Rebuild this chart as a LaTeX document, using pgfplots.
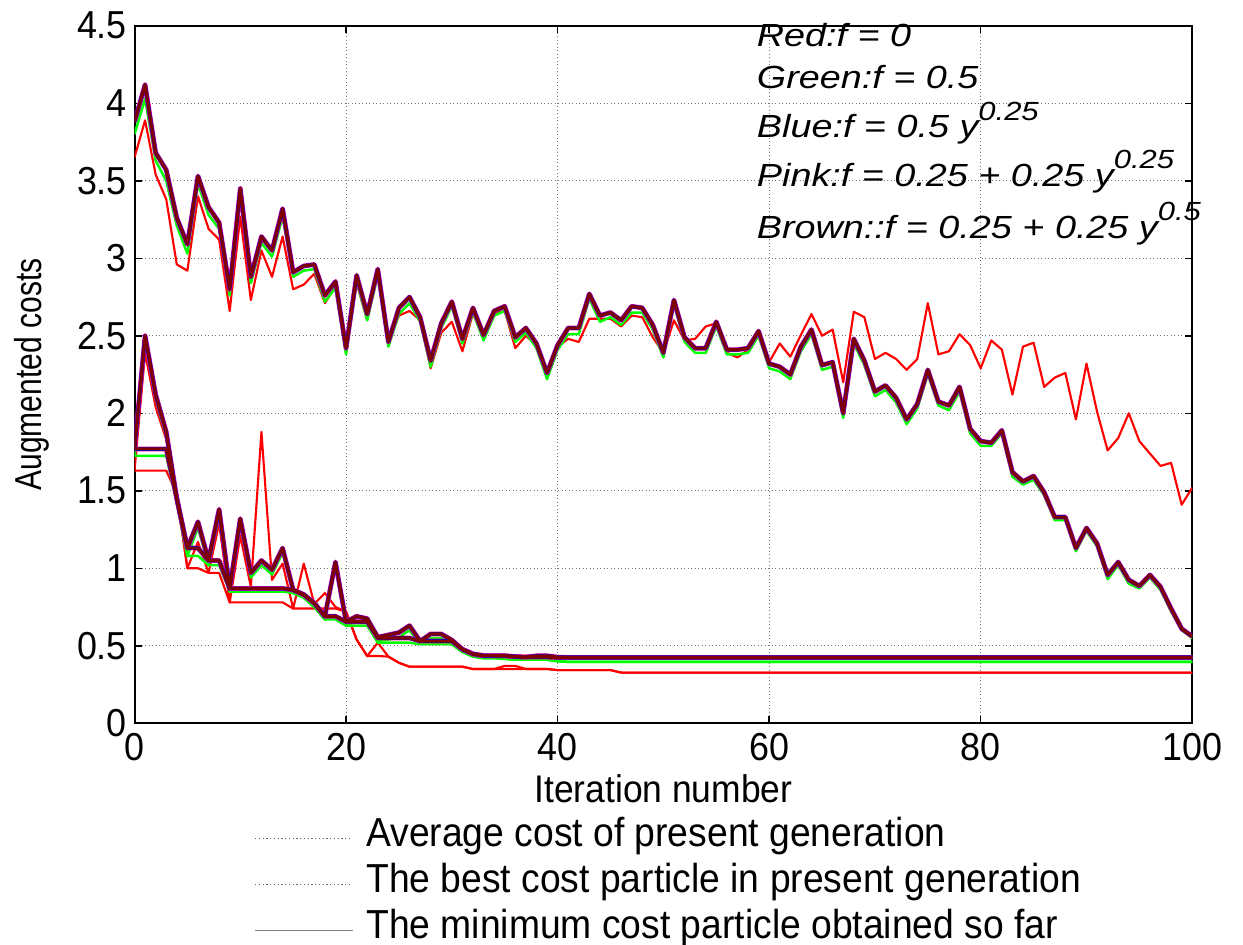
\documentclass[border=0pt]{standalone}
\usepackage{fontspec}
\setmainfont{Liberation Sans}[FakeStretch=0.92]
\newfontfamily\ylabfont{Liberation Sans}[FakeStretch=0.8]
\newfontfamily\annfont{Liberation Sans}[FakeStretch=1.18]
\usepackage{pgfplots}
\pgfplotsset{compat=1.18}
\usepackage{pgfplotstable}

\definecolor{brn}{RGB}{128,0,0}
\newcommand{\sups}[1]{\raisebox{0.55em}{\fontsize{10.5}{10.5}\selectfont #1}}

% i: iteration; a*: average cost, b*: best of generation, m*: minimum so far
% r = red (f=0), g = green (f=0.5), x = brown/blue/pink (nearly identical)
\pgfplotstableread{
i   ar    ax    ag    br    bx    bg    mr    mx    mg
0   3.65  3.88  3.80  1.63  1.77  1.725 1.63  1.77  1.725
1   3.89  4.12  4.03  2.39  2.50  2.46  1.63  1.77  1.725
2   3.54  3.68  3.63  2.04  2.12  2.09  1.63  1.77  1.725
3   3.38  3.57  3.50  1.83  1.88  1.85  1.63  1.77  1.725
4   2.96  3.26  3.21  1.48  1.45  1.42  1.48  1.45  1.42
5   2.92  3.09  3.03  1.00  1.13  1.08  1.00  1.13  1.08
6   3.40  3.53  3.48  1.17  1.30  1.26  1.00  1.13  1.08
7   3.19  3.33  3.28  0.97  1.05  1.02  0.97  1.05  1.02
8   3.12  3.23  3.19  1.29  1.38  1.34  0.97  1.05  1.02
9   2.66  2.80  2.76  0.78  0.87  0.85  0.78  0.87  0.85
10  3.27  3.45  3.39  1.21  1.32  1.28  0.78  0.87  0.85
11  2.73  2.88  2.84  0.88  0.97  0.94  0.78  0.87  0.85
12  3.05  3.14  3.10  1.88  1.05  1.02  0.78  0.87  0.85
13  2.88  3.05  3.01  0.925 0.99  0.96  0.78  0.87  0.85
14  3.14  3.32  3.27  1.03  1.13  1.10  0.78  0.87  0.85
15  2.80  2.91  2.88  0.74  0.86  0.84  0.74  0.86  0.84
16  2.83  2.95  2.92  1.03  0.83  0.81  0.74  0.83  0.81
17  2.90  2.96  2.93  0.77  0.775 0.75  0.74  0.775 0.75
18  2.71  2.76  2.72  0.84  0.69  0.67  0.74  0.69  0.67
19  2.82  2.85  2.81  0.75  1.04  1.01  0.74  0.69  0.67
20  2.39  2.42  2.38  0.72  0.655 0.63  0.72  0.655 0.63
21  2.84  2.89  2.85  0.54  0.69  0.66  0.54  0.655 0.63
22  2.60  2.64  2.60  0.434 0.675 0.65  0.434 0.655 0.63
23  2.90  2.93  2.89  0.52  0.555 0.53  0.434 0.55  0.52
24  2.46  2.46  2.43  0.43  0.57  0.54  0.43  0.55  0.52
25  2.63  2.68  2.64  0.39  0.585 0.555 0.39  0.55  0.52
26  2.66  2.75  2.71  0.365 0.63  0.60  0.365 0.55  0.52
27  2.60  2.62  2.59  0.365 0.53  0.51  0.365 0.53  0.51
28  2.29  2.34  2.30  0.365 0.576 0.55  0.365 0.53  0.51
29  2.52  2.58  2.55  0.365 0.576 0.55  0.365 0.53  0.51
30  2.59  2.72  2.69  0.365 0.537 0.51  0.365 0.53  0.51
31  2.40  2.48  2.45  0.365 0.477 0.46  0.365 0.477 0.46
32  2.645 2.68  2.65  0.35  0.447 0.43  0.35  0.447 0.43
33  2.48  2.505 2.47  0.35  0.436 0.42  0.35  0.436 0.42
34  2.645 2.66  2.63  0.35  0.436 0.42  0.35  0.436 0.42
35  2.66  2.69  2.66  0.37  0.435 0.415 0.35  0.435 0.415
36  2.42  2.49  2.46  0.37  0.43  0.41  0.35  0.43  0.41
37  2.50  2.55  2.52  0.35  0.427 0.41  0.35  0.427 0.41
38  2.44  2.45  2.42  0.35  0.435 0.41  0.35  0.427 0.41
39  2.26  2.26  2.22  0.35  0.435 0.41  0.35  0.427 0.41
40  2.43  2.44  2.41  0.343 0.427 0.40  0.343 0.424 0.40
41  2.48  2.55  2.51  0.343 0.424 0.396 0.343 0.424 0.396
42  2.46  2.55  2.51  0.343 0.424 0.396 0.343 0.424 0.396
43  2.61  2.77  2.74  0.343 0.424 0.396 0.343 0.424 0.396
44  2.61  2.63  2.59  0.343 0.424 0.396 0.343 0.424 0.396
45  2.61  2.65  2.62  0.343 0.424 0.396 0.343 0.424 0.396
46  2.56  2.60  2.57  0.327 0.424 0.396 0.327 0.424 0.396
47  2.63  2.69  2.65  0.327 0.424 0.396 0.327 0.424 0.396
48  2.62  2.68  2.65  0.327 0.424 0.396 0.327 0.424 0.396
49  2.49  2.57  2.54  0.327 0.424 0.396 0.327 0.424 0.396
50  2.39  2.39  2.36  0.327 0.424 0.396 0.327 0.424 0.396
51  2.60  2.73  2.70  0.327 0.424 0.396 0.327 0.424 0.396
52  2.47  2.49  2.46  0.327 0.424 0.396 0.327 0.424 0.396
53  2.48  2.42  2.39  0.327 0.424 0.396 0.327 0.424 0.396
54  2.56  2.42  2.39  0.327 0.424 0.396 0.327 0.424 0.396
55  2.58  2.59  2.56  0.327 0.424 0.396 0.327 0.424 0.396
56  2.39  2.41  2.38  0.327 0.424 0.396 0.327 0.424 0.396
57  2.36  2.41  2.38  0.327 0.424 0.396 0.327 0.424 0.396
58  2.41  2.42  2.39  0.327 0.424 0.396 0.327 0.424 0.396
59  2.52  2.53  2.50  0.327 0.424 0.396 0.327 0.424 0.396
60  2.33  2.32  2.29  0.327 0.424 0.396 0.327 0.424 0.396
61  2.45  2.30  2.27  0.327 0.424 0.396 0.327 0.424 0.396
62  2.365 2.25  2.22  0.327 0.424 0.396 0.327 0.424 0.396
63  2.505 2.43  2.40  0.327 0.424 0.396 0.327 0.424 0.396
64  2.64  2.54  2.51  0.327 0.424 0.396 0.327 0.424 0.396
65  2.50  2.31  2.28  0.327 0.424 0.396 0.327 0.424 0.396
66  2.54  2.33  2.30  0.327 0.424 0.396 0.327 0.424 0.396
67  2.20  2.00  1.97  0.327 0.424 0.396 0.327 0.424 0.396
68  2.655 2.48  2.45  0.327 0.424 0.396 0.327 0.424 0.396
69  2.62  2.34  2.31  0.327 0.424 0.396 0.327 0.424 0.396
70  2.35  2.14  2.11  0.327 0.424 0.396 0.327 0.424 0.396
71  2.39  2.18  2.15  0.327 0.424 0.396 0.327 0.424 0.396
72  2.35  2.10  2.07  0.327 0.424 0.396 0.327 0.424 0.396
73  2.28  1.96  1.93  0.327 0.424 0.396 0.327 0.424 0.396
74  2.35  2.06  2.03  0.327 0.424 0.396 0.327 0.424 0.396
75  2.71  2.28  2.25  0.327 0.424 0.396 0.327 0.424 0.396
76  2.38  2.075 2.05  0.327 0.424 0.396 0.327 0.424 0.396
77  2.40  2.05  2.02  0.327 0.424 0.396 0.327 0.424 0.396
78  2.51  2.17  2.14  0.327 0.424 0.396 0.327 0.424 0.396
79  2.44  1.90  1.87  0.327 0.424 0.396 0.327 0.424 0.396
80  2.29  1.82  1.79  0.327 0.424 0.396 0.327 0.424 0.396
81  2.47  1.81  1.79  0.327 0.424 0.396 0.327 0.424 0.396
82  2.41  1.89  1.87  0.327 0.424 0.396 0.327 0.424 0.396
83  2.12  1.62  1.59  0.327 0.424 0.396 0.327 0.424 0.396
84  2.43  1.56  1.54  0.327 0.424 0.396 0.327 0.424 0.396
85  2.455 1.595 1.57  0.327 0.424 0.396 0.327 0.424 0.396
86  2.17  1.49  1.47  0.327 0.424 0.396 0.327 0.424 0.396
87  2.23  1.33  1.31  0.327 0.424 0.396 0.327 0.424 0.396
88  2.26  1.33  1.31  0.327 0.424 0.396 0.327 0.424 0.396
89  1.96  1.13  1.11  0.327 0.424 0.396 0.327 0.424 0.396
90  2.32  1.26  1.24  0.327 0.424 0.396 0.327 0.424 0.396
91  2.01  1.16  1.14  0.327 0.424 0.396 0.327 0.424 0.396
92  1.76  0.957 0.93  0.327 0.424 0.396 0.327 0.424 0.396
93  1.84  1.04  1.02  0.327 0.424 0.396 0.327 0.424 0.396
94  2.00  0.925 0.90  0.327 0.424 0.396 0.327 0.424 0.396
95  1.82  0.886 0.87  0.327 0.424 0.396 0.327 0.424 0.396
96  1.74  0.957 0.94  0.327 0.424 0.396 0.327 0.424 0.396
97  1.66  0.88  0.86  0.327 0.424 0.396 0.327 0.424 0.396
98  1.68  0.74  0.72  0.327 0.424 0.396 0.327 0.424 0.396
99  1.41  0.61  0.60  0.327 0.424 0.396 0.327 0.424 0.396
100 1.52  0.56  0.55  0.327 0.424 0.396 0.327 0.424 0.396
}\costs

\begin{document}
\begin{tikzpicture}
\path[use as bounding box] (-53.8pt,-88.3pt) rectangle (443.4pt,289.3pt);
\begin{axis}[
    at={(0,0)}, anchor=south west,
    scale only axis,
    width=423.1pt, height=279pt,
    xmin=0, xmax=100, ymin=0, ymax=4.5,
    clip mode=individual,
    xtick={0,20,40,60,80,100},
    ytick={0,0.5,1,1.5,2,2.5,3,3.5,4,4.5},
    tick align=inside, tick pos=both,
    major tick length=3pt,
    tick style={black, line width=0.6pt},
    axis line style={black, line width=0.8pt},
    grid=major,
    grid style={densely dotted, black!55, line width=0.4pt},
    /pgf/number format/assume math mode=true,
    tick label style={font=\fontsize{15.6}{17}\selectfont},
    xticklabel style={anchor=base, yshift=-14.8pt},
    yticklabel style={xshift=0.5pt},
    xlabel={Iteration number},
    ylabel={\ylabfont Augmented costs},
    every axis x label/.style={at={(axis description cs:0.5,0)}, anchor=base, yshift=-31.6pt, font=\fontsize{15.4}{17}\selectfont},
    every axis y label/.style={at={(axis description cs:-0.097,0.5)}, rotate=90, anchor=center, font=\fontsize{15}{17}\selectfont},
    legend style={at={(0.113,-0.1419)}, anchor=north west, draw=none, fill=none,
        inner sep=0pt, font=\fontsize{16.2}{18}\selectfont,
        nodes={inner sep=0pt, text height=9.5pt, text depth=3pt},
        row sep=5.9pt,
        /tikz/every odd column/.style={column sep=5.2pt}},
    legend cell align=left,
    legend image code/.code={\draw[#1] (0pt,0pt) -- (39pt,0pt);},
    every axis plot/.append style={no markers, line join=round},
]
\addlegendimage{black!60, densely dotted, line width=0.5pt}
\addlegendimage{black!60, densely dotted, line width=0.5pt}
\addlegendimage{black!50, line width=0.5pt}
\legend{Average cost of present generation, The best cost particle in present generation, The minimum cost particle obtained so far}

% red: f = 0
\addplot[red, line width=0.85pt] table[x=i, y=ar] {\costs};
\addplot[red, line width=0.85pt] table[x=i, y=br] {\costs};
\addplot[red, line width=0.85pt] table[x=i, y=mr] {\costs};
% green: f = 0.5
\addplot[green, line width=1pt] table[x=i, y=ag] {\costs};
\addplot[green, line width=1pt] table[x=i, y=bg] {\costs};
\addplot[green, line width=1pt] table[x=i, y=mg] {\costs};
% pink and blue lie under the brown curve
\addplot[magenta, line width=1.9pt] table[x=i, y=ax] {\costs};
\addplot[magenta, line width=1.9pt] table[x=i, y=bx] {\costs};
\addplot[magenta, line width=1.9pt] table[x=i, y=mx] {\costs};
\addplot[blue, line width=1.5pt] table[x=i, y=ax] {\costs};
\addplot[blue, line width=1.5pt] table[x=i, y=bx] {\costs};
\addplot[blue, line width=1.5pt] table[x=i, y=mx] {\costs};
% brown
\addplot[brn, line width=1.25pt] table[x=i, y=ax] {\costs};
\addplot[brn, line width=1.25pt] table[x=i, y=bx] {\costs};
\addplot[brn, line width=1.25pt] table[x=i, y=mx] {\costs};

\begin{scope}[font=\annfont\fontsize{12.8}{15}\selectfont\itshape]
\node[anchor=base west, inner sep=0pt] at (axis cs:58.8,4.363) {Red:f = 0};
\node[anchor=base west, inner sep=0pt] at (axis cs:58.8,4.092) {Green:f = 0.5};
\node[anchor=base west, inner sep=0pt] at (axis cs:58.8,3.776) {Blue:f = 0.5 y\sups{0.25}};
\node[anchor=base west, inner sep=0pt] at (axis cs:58.8,3.466) {Pink:f = 0.25 + 0.25 y\sups{0.25}};
\node[anchor=base west, inner sep=0pt] at (axis cs:58.8,3.13) {Brown::f = 0.25 + 0.25 y\sups{0.5}};
\end{scope}
\end{axis}
\end{tikzpicture}
\end{document}
